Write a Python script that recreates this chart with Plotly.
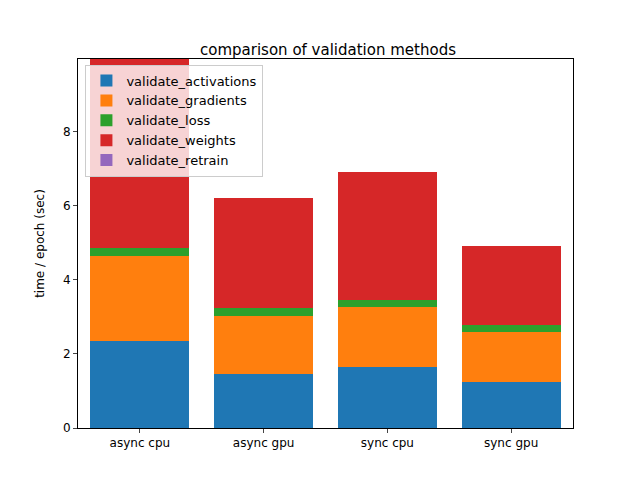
import plotly.graph_objects as go

categories = ["async cpu", "async gpu", "sync cpu", "sync gpu"]
validate_activations = [2.35, 1.46, 1.65, 1.24]
validate_gradients = [2.30, 1.57, 1.62, 1.35]
validate_loss = [0.21, 0.21, 0.19, 0.19]
validate_weights = [6.0, 2.98, 3.46, 2.14]
validate_retrain = [0.0, 0.0, 0.0, 0.0]

series = [
    ("validate_activations", validate_activations, "#1f77b4"),
    ("validate_gradients", validate_gradients, "#ff7f0e"),
    ("validate_loss", validate_loss, "#2ca02c"),
    ("validate_weights", validate_weights, "#d62728"),
    ("validate_retrain", validate_retrain, "#9467bd"),
]

fig = go.Figure()
for name, vals, col in series:
    fig.add_trace(go.Bar(x=categories, y=vals, name=name, marker=dict(color=col, line=dict(width=0))))

fig.update_layout(
    barmode="stack", bargap=0.2,
    width=640, height=480,
    margin=dict(l=70, r=75, t=51, b=60),
    paper_bgcolor="white", plot_bgcolor="white",
    font=dict(family="DejaVu Sans", size=12, color="black"),
    title=dict(text="comparison of validation methods", x=0.5, xanchor="center", y=0.925, font=dict(size=15)),
    legend=dict(x=0.015, y=0.985, xanchor="left", yanchor="top", traceorder="normal",
                bgcolor="rgba(255,255,255,0.8)", bordercolor="#cccccc", borderwidth=1, font=dict(size=13)),
    xaxis=dict(showline=True, linecolor="black", mirror=True, ticks="outside", ticklen=4),
    yaxis=dict(range=[0, 9.97], showline=True, linecolor="black", mirror=True, ticks="outside", ticklen=4,
               showgrid=False, dtick=2, title=dict(text="time / epoch (sec)", font=dict(size=12))),
)
fig.write_html("out.html")
